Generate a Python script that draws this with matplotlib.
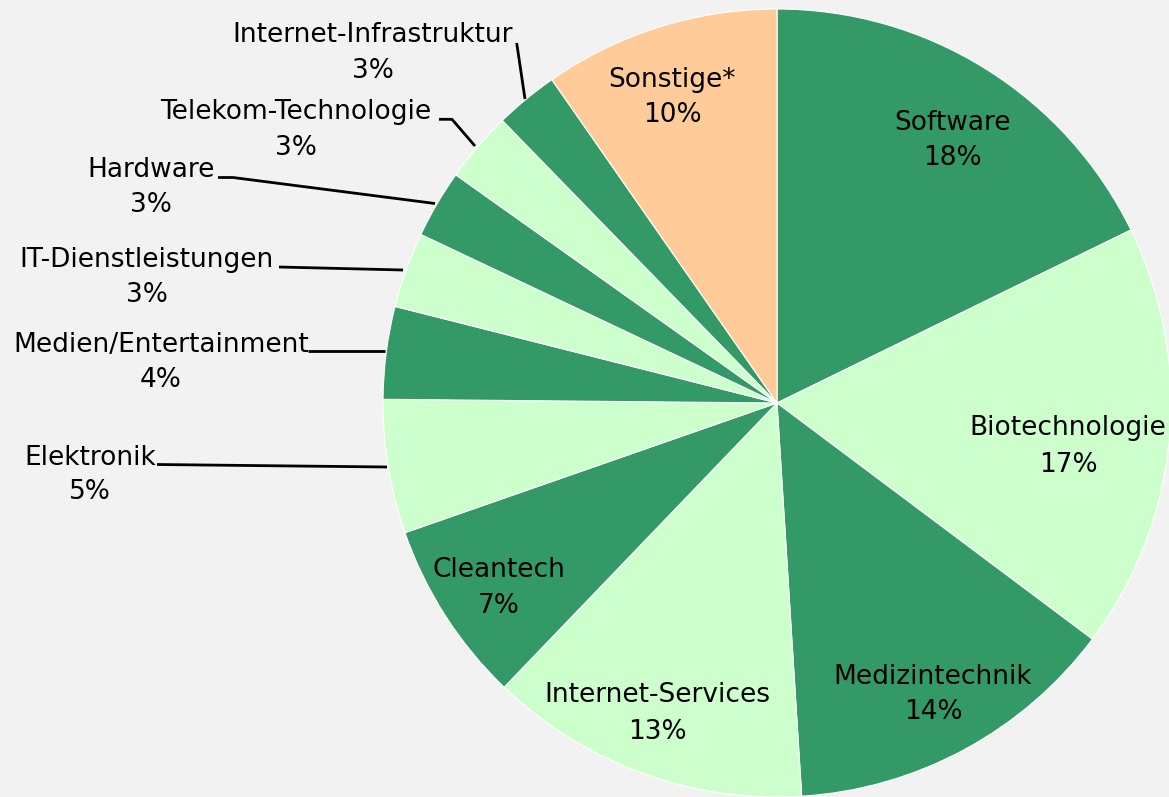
import matplotlib
matplotlib.use("Agg")
import matplotlib.pyplot as plt

# ---- data ----
categories = ["Software", "Biotechnologie", "Medizintechnik", "Internet-Services",
              "Cleantech", "Elektronik", "Medien/Entertainment", "IT-Dienstleistungen",
              "Hardware", "Telekom-Technologie", "Internet-Infrastruktur", "Sonstige*"]
shares = [17.8, 17.5, 13.8, 13.2, 7.5, 5.5, 3.8, 3.1, 2.8, 2.9, 2.6, 9.7]
pct_labels = ["18%", "17%", "14%", "13%", "7%", "5%", "4%", "3%", "3%", "3%", "3%", "10%"]

# ---- style ----
DARK, LIGHT, ORANGE, BG = "#339966", "#CCFFCC", "#FFCC99", "#F2F2F2"
colors = [DARK, LIGHT, DARK, LIGHT, DARK, LIGHT, DARK, LIGHT, DARK, LIGHT, DARK, ORANGE]

W, H = 1169, 797
FS = 19
CAP_HALF = 0.365 * FS * 100 / 72  # half cap height in px

# label layout in pixel coords (x centre, cap-centre y of name, cap-centre y of pct)
label_pos = [(952, 120, 155), (1068, 425, 462), (933, 674, 709), (657, 692, 729),
             (499, 567, 603), (90, 455, 489.5), (161, 342, 377.5), (147, 257.5, 292.5),
             (151, 167.5, 202.5), (296, 109, 145.5), (373, 32.5, 68), (672, 77, 112)]
leaders = {5: [(157, 464.5), (387, 467)],
           6: [(308, 351), (385, 351)],
           7: [(279, 267), (403, 270)],
           8: [(218, 177.5), (233, 177.5), (435, 203.5)],
           9: [(439, 119.3), (452, 119.3), (475, 146)],
           10: [(516.7, 43), (525, 99)]}

fig = plt.figure(figsize=(W / 100, H / 100), dpi=100, facecolor=BG)
ax = fig.add_axes([0, 0, 1, 1])
ax.set_facecolor(BG)

cx, cy, R = 777, H - 403, 394
ax.pie(shares, colors=colors, startangle=90, counterclock=False,
       center=(cx, cy), radius=R,
       wedgeprops=dict(edgecolor="white", linewidth=0.8))
ax.set_xlim(0, W)
ax.set_ylim(0, H)
ax.set_aspect("equal")
ax.axis("off")

for i, (x, y1, y2) in enumerate(label_pos):
    ax.text(x, H - (y1 + CAP_HALF), categories[i], ha="center", va="baseline",
            fontsize=FS, family="DejaVu Sans", color="black")
    ax.text(x, H - (y2 + CAP_HALF), pct_labels[i], ha="center", va="baseline",
            fontsize=FS, family="DejaVu Sans", color="black")

for i, pts in leaders.items():
    xs = [p[0] for p in pts]
    ys = [H - p[1] for p in pts]
    ax.plot(xs, ys, color="black", lw=2.0, solid_capstyle="butt")

fig.savefig("out.png", dpi=100, facecolor=BG)
